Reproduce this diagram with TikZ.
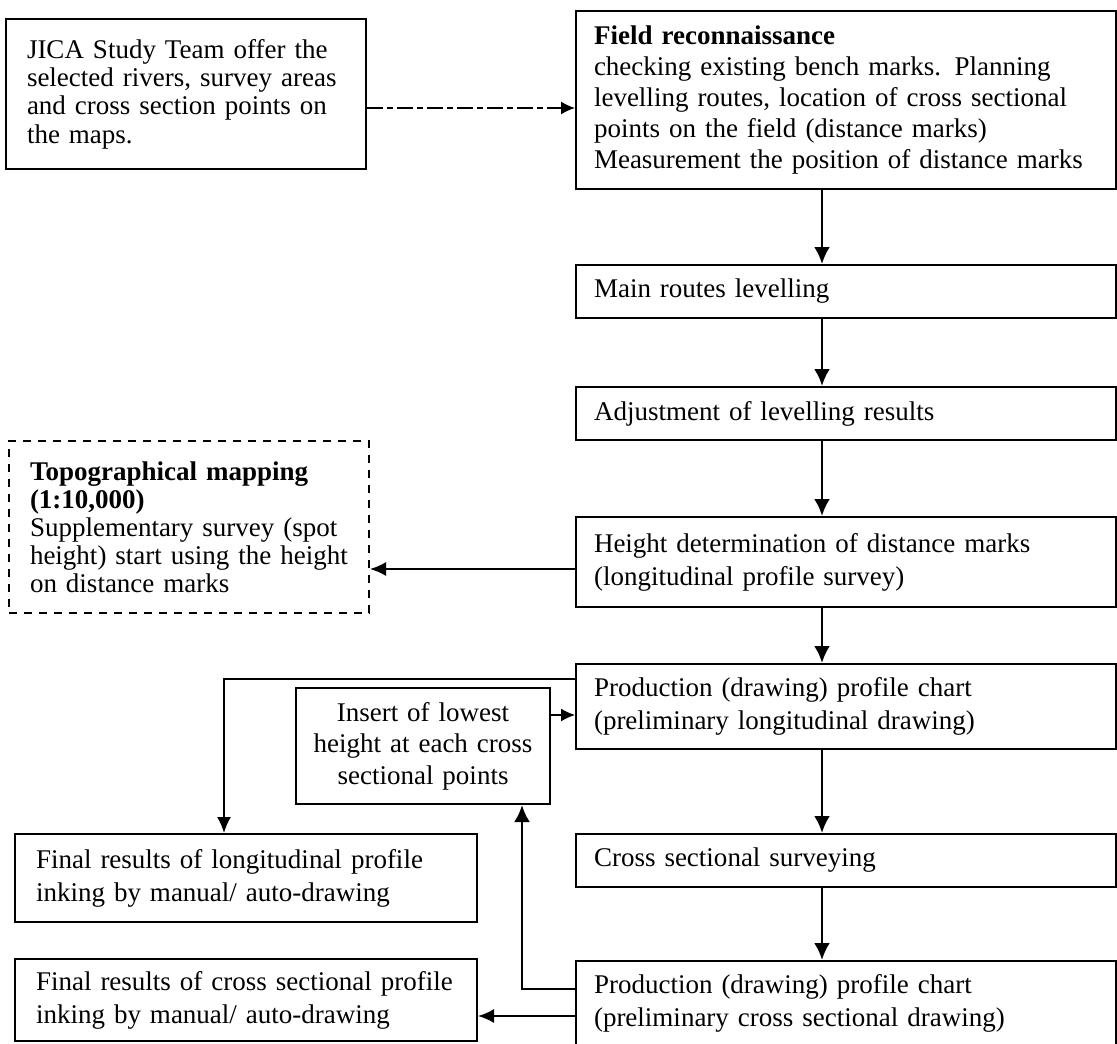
\documentclass[tikz,border=0pt]{standalone}
\usepackage{fontspec}
\setmainfont{Liberation Serif}
\usetikzlibrary{positioning,arrows.meta}

\tikzset{
  stage/.style={draw, line width=1pt, text width=252pt, inner xsep=9pt, align=left, font=\fontsize{13.5}{16.5}\selectfont},
  note/.style={draw, line width=1pt, anchor=north west, align=left, inner xsep=10.5pt},
  flow/.style={-{Latex[length=8.5pt,width=8pt]}, line width=1.4pt},
  branch/.style={-{Latex[length=8pt,width=7pt]}, line width=0.9pt},
  link/.style={-{Latex[length=7pt,width=6.5pt]}, line width=0.7pt, dash pattern=on 8pt off 2pt on 3pt off 2pt},
}

\begin{document}
\begin{tikzpicture}[x=0.5pt, y=-0.5pt]
  \useasboundingbox (0,0) rectangle (1117,1043);

  % main column
  \node[stage, anchor=north west, minimum height=89pt, font=\fontsize{13.5}{15.5}\selectfont] (fieldrec) at (575,10)
    {\textbf{Field reconnaissance}\\ checking existing bench marks. Planning\\ levelling routes, location of cross sectional\\ points on the field (distance marks)\\ Measurement the position of distance marks};
  \node[stage, minimum height=26.5pt, below=37pt of fieldrec] (mainlev) {Main routes levelling};
  \node[stage, minimum height=26.5pt, below=33.5pt of mainlev] (adjust) {Adjustment of levelling results};
  \node[stage, minimum height=45pt, below=37.5pt of adjust] (heightdet) {Height determination of distance marks\\ (longitudinal profile survey)};
  \node[stage, minimum height=42.5pt, below=27.5pt of heightdet] (prodlong) {Production (drawing) profile chart\\ (preliminary longitudinal drawing)};
  \node[stage, minimum height=26.5pt, below=41.5pt of prodlong] (crosssurv) {Cross sectional surveying};
  \node[stage, minimum height=42pt, below=36pt of crosssurv] (prodcross) {Production (drawing) profile chart\\ (preliminary cross sectional drawing)};

  % side boxes
  \node[note, text width=159pt, minimum height=75pt, font=\fontsize{13.5}{14.2}\selectfont] (jica) at (5,18)
    {JICA Study Team offer the\\ selected rivers, survey areas\\ and cross section points on\\ the maps.};
  \node[note, dash pattern=on 4pt off 3.5pt, text width=159pt, minimum height=86pt, font=\fontsize{13.5}{14}\selectfont] (topo) at (8,440)
    {\textbf{Topographical mapping}\\ \textbf{(1:10,000)}\\ Supplementary survey (spot\\ height) start using the height\\ on distance marks};
  \node[note, align=center, inner xsep=6pt, text width=115pt, minimum height=58pt, font=\fontsize{13.5}{15.75}\selectfont] (insert) at (295,687)
    {Insert of lowest\\ height at each cross\\ sectional points};
  \node[note, text width=210pt, minimum height=44pt, font=\fontsize{13.5}{16.5}\selectfont] (finallong) at (14,833)
    {Final results of longitudinal profile\\ inking by manual/ auto-drawing};
  \node[note, text width=210pt, minimum height=41pt, font=\fontsize{13.5}{16.5}\selectfont] (finalcross) at (14,958)
    {Final results of cross sectional profile\\ inking by manual/ auto-drawing};

  % connectors
  \coordinate (colx) at (822,0);
  \foreach \a/\b in {fieldrec/mainlev, mainlev/adjust, adjust/heightdet, heightdet/prodlong, prodlong/crosssurv, crosssurv/prodcross}
    \draw[flow] (\a.south -| colx) -- (\b.north -| colx);

  \draw[link] ([yshift=-7pt]jica.east) -- ([yshift=-7pt]jica.east -| fieldrec.west);
  \draw[branch] ([yshift=-3.5pt]heightdet.west) -- ([yshift=-3.5pt]heightdet.west -| topo.east);
  \draw[branch] ([yshift=-8pt]prodlong.north west) -| ([xshift=-11pt]finallong.north);
  \draw[link] ([yshift=-14pt]insert.north east) -- ([yshift=-14pt]insert.north east -| prodlong.west);
  \draw[flow] ([yshift=-14.5pt]prodcross.north west) -| ([xshift=49.5pt]insert.south);
  \draw[branch] ([yshift=-28pt]prodcross.north west) -- ([yshift=-28pt]prodcross.north west -| finalcross.east);
\end{tikzpicture}
\end{document}
